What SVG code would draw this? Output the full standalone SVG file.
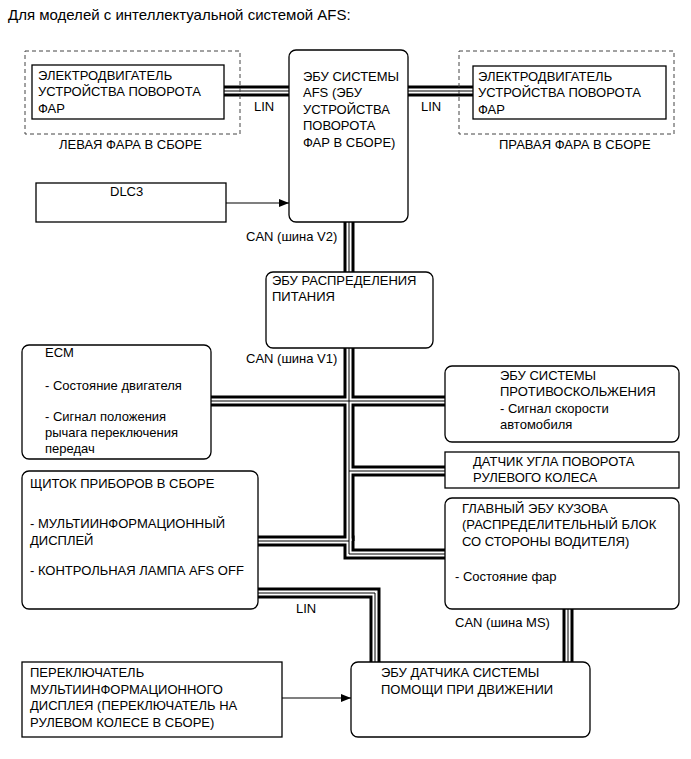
<svg xmlns="http://www.w3.org/2000/svg" width="691" height="759" viewBox="0 0 691 759">
<defs>
<style>
text{font-family:"Liberation Sans",Arial,sans-serif;font-size:13px;fill:#000}
.title{font-size:15px}
.box{fill:#fff;stroke:#000;stroke-width:1.3}
.dash{fill:none;stroke:#444;stroke-width:1;stroke-dasharray:4 3}
.bo{fill:none;stroke:#000;stroke-width:11;stroke-linejoin:miter}
.bw{fill:none;stroke:#fff;stroke-width:5;stroke-linejoin:miter}
.bc{fill:none;stroke:#000;stroke-width:1;stroke-linejoin:miter}
.arr{fill:none;stroke:#000;stroke-width:1.2}
</style>
<marker id="ah" markerWidth="10" markerHeight="8" refX="10" refY="4" orient="auto" markerUnits="userSpaceOnUse">
<path d="M0,0 L10,4 L0,8 Z" fill="#000"/>
</marker>
</defs>
<rect width="691" height="759" fill="#fff"/>
<text class="title" x="8" y="20">Для моделей с интеллектуальной системой AFS:</text>

<g id="connectors">
<g class="bo">
<path d="M224,91 H289"/><path d="M408,91 H473"/>
<path d="M349,222 V272"/><path d="M349,348 V541"/>
<path d="M211,401 H445"/><path d="M349,471 H445"/>
<path d="M258,541 H349 V554 H445"/>
<path d="M568,609 V662"/><path d="M258,593 H375 V662"/>
</g>
<g class="bw">
<path d="M224,91 H289"/><path d="M408,91 H473"/>
<path d="M349,222 V272"/><path d="M349,348 V541"/>
<path d="M211,401 H445"/><path d="M349,471 H445"/>
<path d="M258,541 H349 V554 H445"/>
<path d="M568,609 V662"/><path d="M258,593 H375 V662"/>
</g>
<g class="bc">
<path d="M224,91 H289"/><path d="M408,91 H473"/>
<path d="M349,222 V272"/><path d="M349,348 V541"/>
<path d="M211,401 H445"/><path d="M349,471 H445"/>
<path d="M258,541 H349 V554 H445"/>
<path d="M568,609 V662"/><path d="M258,593 H375 V662"/>
</g>
<path class="arr" d="M226,203 H289" marker-end="url(#ah)"/>
<path class="arr" d="M282,698 H351" marker-end="url(#ah)"/>
<text x="254" y="111">LIN</text>
<text x="421" y="111">LIN</text>
<text x="246" y="241">CAN (шина V2)</text>
<text x="246" y="363">CAN (шина V1)</text>
<text x="455" y="627">CAN (шина MS)</text>
<text x="296" y="613">LIN</text>
</g>

<g id="left-headlight">
<rect class="dash" x="25" y="51" width="215" height="83"/>
<rect class="box" x="32" y="65" width="192" height="54"/>
<text x="38" y="80">ЭЛЕКТРОДВИГАТЕЛЬ</text>
<text x="38" y="96">УСТРОЙСТВА ПОВОРОТА</text>
<text x="38" y="113">ФАР</text>
<text x="59" y="149">ЛЕВАЯ ФАРА В СБОРЕ</text>
</g>

<g id="right-headlight">
<rect class="dash" x="459" y="51" width="215" height="83"/>
<rect class="box" x="473" y="66" width="193" height="53"/>
<text x="478" y="81">ЭЛЕКТРОДВИГАТЕЛЬ</text>
<text x="478" y="97">УСТРОЙСТВА ПОВОРОТА</text>
<text x="478" y="114">ФАР</text>
<text x="499" y="149">ПРАВАЯ ФАРА В СБОРЕ</text>
</g>

<g id="afs-ecu">
<rect class="box" x="289" y="50" width="119" height="172" rx="7"/>
<text x="303" y="81">ЭБУ СИСТЕМЫ</text>
<text x="303" y="97">AFS (ЭБУ</text>
<text x="303" y="114">УСТРОЙСТВА</text>
<text x="303" y="130">ПОВОРОТА</text>
<text x="303" y="147">ФАР В СБОРЕ)</text>
</g>

<g id="dlc3">
<rect class="box" x="36" y="183" width="190" height="39"/>
<text x="110" y="196">DLC3</text>
</g>

<g id="power-ecu">
<rect class="box" x="266" y="272" width="167" height="76" rx="7"/>
<text x="272" y="285">ЭБУ РАСПРЕДЕЛЕНИЯ</text>
<text x="272" y="301">ПИТАНИЯ</text>
</g>

<g id="ecm">
<rect class="box" x="22" y="345" width="189" height="114" rx="7"/>
<text x="45" y="357">ECM</text>
<text x="45" y="390">- Состояние двигателя</text>
<text x="45" y="421">- Сигнал положения</text>
<text x="45" y="437">рычага переключения</text>
<text x="45" y="453">передач</text>
</g>

<g id="antiskid-ecu">
<rect class="box" x="445" y="366" width="234" height="76" rx="7"/>
<text x="500" y="380">ЭБУ СИСТЕМЫ</text>
<text x="500" y="396">ПРОТИВОСКОЛЬЖЕНИЯ</text>
<text x="500" y="413">- Сигнал скорости</text>
<text x="500" y="429">автомобиля</text>
</g>

<g id="steering-sensor">
<rect class="box" x="445" y="452" width="234" height="36"/>
<text x="473" y="466">ДАТЧИК УГЛА ПОВОРОТА</text>
<text x="473" y="482">РУЛЕВОГО КОЛЕСА</text>
</g>

<g id="body-ecu">
<rect class="box" x="445" y="498" width="234" height="111" rx="7"/>
<text x="462" y="513">ГЛАВНЫЙ ЭБУ КУЗОВА</text>
<text x="462" y="529">(РАСПРЕДЕЛИТЕЛЬНЫЙ БЛОК</text>
<text x="462" y="546">СО СТОРОНЫ ВОДИТЕЛЯ)</text>
<text x="455" y="581">- Состояние фар</text>
</g>

<g id="instrument-cluster">
<rect class="box" x="22" y="471" width="236" height="138" rx="7"/>
<text x="30" y="488">ЩИТОК ПРИБОРОВ В СБОРЕ</text>
<text x="30" y="528">- МУЛЬТИИНФОРМАЦИОННЫЙ</text>
<text x="30" y="545">ДИСПЛЕЙ</text>
<text x="30" y="575">- КОНТРОЛЬНАЯ ЛАМПА AFS OFF</text>
</g>

<g id="display-switch">
<rect class="box" x="22" y="662" width="260" height="75"/>
<text x="30" y="677">ПЕРЕКЛЮЧАТЕЛЬ</text>
<text x="30" y="694">МУЛЬТИИНФОРМАЦИОННОГО</text>
<text x="30" y="710">ДИСПЛЕЯ (ПЕРЕКЛЮЧАТЕЛЬ НА</text>
<text x="30" y="727">РУЛЕВОМ КОЛЕСЕ В СБОРЕ)</text>
</g>

<g id="driving-assist-ecu">
<rect class="box" x="351" y="662" width="239" height="75" rx="7"/>
<text x="381" y="677">ЭБУ ДАТЧИКА СИСТЕМЫ</text>
<text x="381" y="694">ПОМОЩИ ПРИ ДВИЖЕНИИ</text>
</g>
</svg>
